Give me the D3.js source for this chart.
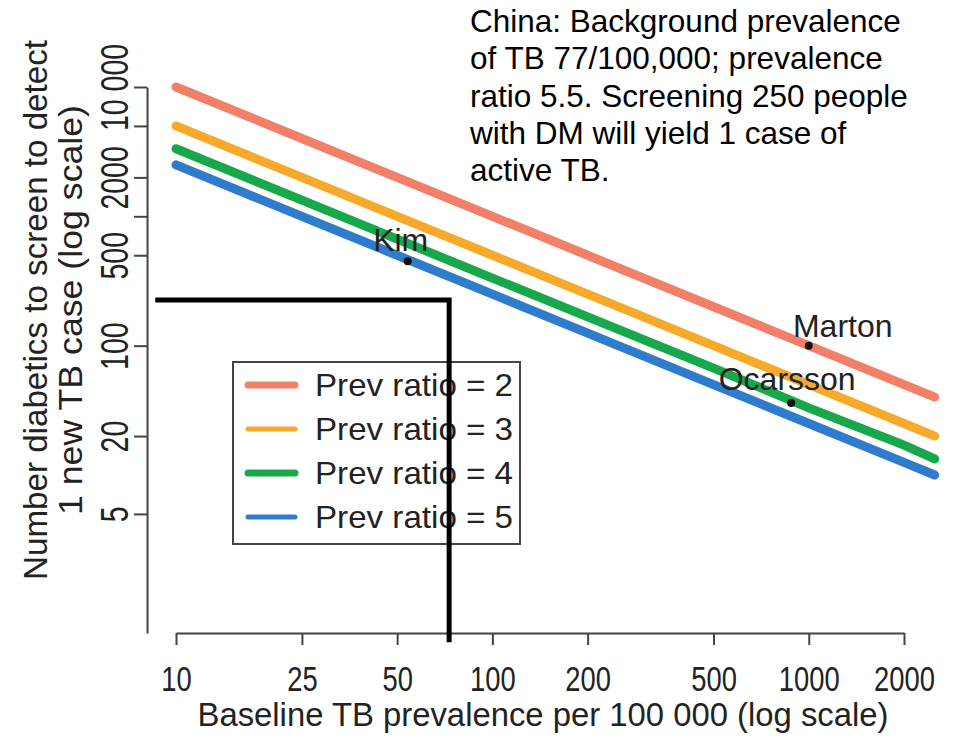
<!DOCTYPE html>
<html>
<head>
<meta charset="utf-8">
<script src="https://cdn.jsdelivr.net/npm/d3@7"></script>
<style>
body{margin:0;background:#fff}
text{font-family:"Liberation Sans",Arial,Helvetica,sans-serif;fill:#222}
</style>
</head>
<body>
<svg id="chart" width="953" height="738"></svg>
<script>
'use strict';

// baseline TB prevalence per 100 000 (x) and number needed to screen (y)
var baseline=[10,25,50,100,200,500,1000,2000,2500]
  , nnsRatio2=[10000,4000,2000,1000,500,200,100,50,40]
  , nnsRatio3=[5000,2000,1000,500,250,100,50,25,20]
  , nnsRatio4=[3333,1333,667,333,167,67,33,17,13.3]
  , nnsRatio5=[2500,1000,500,250,125,50,25,12.5,10]
  , seriesNames=['Prev ratio = 2','Prev ratio = 3','Prev ratio = 4','Prev ratio = 5']
  , seriesColors=['#f27f67','#f6a92b','#17a84b','#2f7ccc']

var studyNames=['Kim','Marton','Ocarsson']
  , studyPrev=[54,1000,880]
  , studyNns=[450,100,36]

var xTicks=[10,25,50,100,200,500,1000,2000]
  , yTicks=[5,20,100,500,1000,2000,5000,10000]
  , yTickLabels=['5','20','100','500','','2000','','10 000']

// China guide: prevalence ~73, nns ~225
var guidePrev=[8.6,73,73]
  , guideNns=[225,225,0.51]

var noteLines=[
    'China: Background prevalence'
  , 'of TB 77/100,000; prevalence'
  , 'ratio 5.5. Screening 250 people'
  , 'with DM will yield 1 case of'
  , 'active TB.'
]

var svg=d3.select('#chart')
  , x=d3.scaleLog().domain([10,2000]).range([176,904])
  , y=d3.scaleLog().domain([0.6,10000]).range([633,87])
  , series=[nnsRatio2,nnsRatio3,nnsRatio4,nnsRatio5]

svg.append('rect').attr('width',953).attr('height',738).attr('fill','#fff');

// axes
var gx=svg.append('g')
    .attr('transform','translate(0,'+y(0.6)+')')
    .call(d3.axisBottom(x).tickValues(xTicks).tickFormat(d3.format('d')).tickSize(12).tickSizeOuter(0));
gx.selectAll('text')
    .attr('dy',null)
    .attr('y',58)
    .attr('font-size',36)
    .attr('transform','scale(0.76,1)')
    .style('fill','#222');

var gy=svg.append('g')
    .attr('transform','translate('+x(8.1)+',0)')
    .call(d3.axisLeft(y).tickValues(yTicks).tickFormat(function(d,i){return yTickLabels[i];}).tickSize(13).tickSizeOuter(0));
gy.selectAll('text')
    .attr('dy',null)
    .attr('x',0)
    .attr('y',-19)
    .attr('text-anchor','middle')
    .attr('font-size',38)
    .attr('transform','rotate(-90) scale(0.75,1)')
    .style('fill','#222');

svg.selectAll('.domain,.tick line')
    .attr('stroke','#444')
    .attr('stroke-width',2);

// axis titles
svg.append('text')
    .attr('x',543)
    .attr('y',726)
    .attr('text-anchor','middle')
    .attr('font-size',34)
    .attr('textLength',691)
    .attr('lengthAdjust','spacingAndGlyphs')
    .text('Baseline TB prevalence per 100 000 (log scale)');

svg.append('text')
    .attr('transform','translate(47,310) rotate(-90)')
    .attr('text-anchor','middle')
    .attr('font-size',34)
    .attr('textLength',540)
    .attr('lengthAdjust','spacingAndGlyphs')
    .text('Number diabetics to screen to detect');
svg.append('text')
    .attr('transform','translate(82,310) rotate(-90)')
    .attr('text-anchor','middle')
    .attr('font-size',34)
    .attr('textLength',410)
    .attr('lengthAdjust','spacingAndGlyphs')
    .text('1 new TB case (log scale)');

// lines
var line=d3.line()
    .x(function(d,i){return x(baseline[i]);})
    .y(function(d){return y(d);})

svg.append('g').selectAll('path')
    .data(series)
    .enter().append('path')
    .attr('d',line)
    .attr('fill','none')
    .attr('stroke',function(d,i){return seriesColors[i];})
    .attr('stroke-width',9)
    .attr('stroke-linecap','round');

// study points
var labelOff={Kim:[-7,-10],Marton:[34,-9],Ocarsson:[-4,-13]};
var pts=svg.append('g').selectAll('g')
    .data(studyNames)
    .enter().append('g')
    .attr('transform',function(d,i){return 'translate('+x(studyPrev[i])+','+y(studyNns[i])+')';});
pts.append('circle').attr('r',4).attr('fill','#111');
pts.append('text')
    .attr('x',function(d){return labelOff[d][0];})
    .attr('y',function(d){return labelOff[d][1];})
    .attr('text-anchor','middle')
    .attr('font-size',32)
    .text(function(d){return d;});

// legend
var lg=svg.append('g').attr('transform','translate(233,362)');
lg.append('rect')
    .attr('width',287)
    .attr('height',182)
    .attr('fill','#fff')
    .attr('stroke','#444')
    .attr('stroke-width',2);
var li=lg.selectAll('g')
    .data(seriesNames)
    .enter().append('g')
    .attr('transform',function(d,i){return 'translate(0,'+(23+i*44)+')';});
li.append('line')
    .attr('x1',15).attr('x2',62)
    .attr('stroke',function(d,i){return seriesColors[i];})
    .attr('stroke-width',function(d,i){return i%2?5:7;})
    .attr('stroke-linecap','round');
li.append('text')
    .attr('x',82)
    .attr('y',11)
    .attr('font-size',32)
    .attr('textLength',198)
    .attr('lengthAdjust','spacingAndGlyphs')
    .text(function(d){return d;});

// China guide lines
svg.append('path')
    .datum(guideNns)
    .attr('d',d3.line().x(function(d,i){return x(guidePrev[i]);}).y(function(d){return y(d);}))
    .attr('fill','none')
    .attr('stroke','#000')
    .attr('stroke-width',5);

// note
svg.append('g').selectAll('text')
    .data(noteLines)
    .enter().append('text')
    .attr('x',470)
    .attr('y',function(d,i){return 32+i*37.3;})
    .attr('font-size',31.5)
    .style('fill','#000')
    .text(function(d){return d;});
</script>
</body>
</html>
